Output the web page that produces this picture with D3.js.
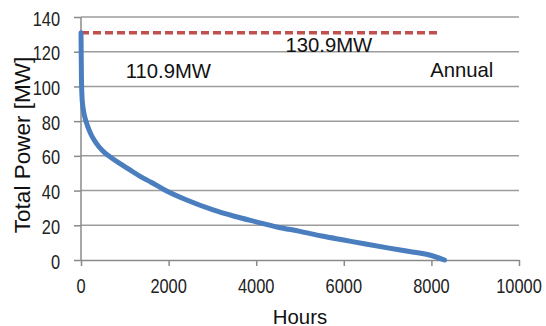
<!DOCTYPE html>
<html>
<head>
	<meta charset="utf-8">
	<script src="https://cdn.jsdelivr.net/npm/d3@7"></script>
	<style>
		body { margin: 0; background: #fff; }
		.grid line { stroke: #9c9c9c; stroke-width: 1.5px; }
		.axis path, .axis line { stroke: #8a8a8a; stroke-width: 1.5px; }
		.tick-label { font-family: "Liberation Sans", Arial, sans-serif; font-size: 20.5px; fill: #222; }
		.title { font-family: "Liberation Sans", Arial, sans-serif; fill: #111; }
		.note { font-family: "Liberation Sans", Arial, sans-serif; font-size: 20.3px; fill: #111; }
		.curve { fill: none; stroke: #4a7ebf; stroke-width: 5px; stroke-linejoin: round; stroke-linecap: round; }
		.peak { fill: none; stroke: #c0504d; stroke-width: 3.5px; stroke-dasharray: 8 4; }
	</style>
</head>
<body>
	<svg width="546" height="326"></svg>

	<script>
		// load duration curve
		var hours = [0, 10, 25, 40, 60, 90, 130, 170, 230, 300, 400, 550, 700, 900, 1100, 1350, 1600, 1900, 2400, 3000, 3500, 4000, 4500, 5000, 5500, 6000, 6500, 7000, 7500, 8000, 8300]
		var power = [130.9, 105, 93, 89, 85.5, 82, 78.6, 75.8, 72.3, 69.1, 65.5, 61.6, 58.8, 55.4, 52.2, 48.2, 44.8, 40.5, 34.7, 29, 25.2, 22, 18.9, 16.5, 13.8, 11.5, 9.2, 7, 4.9, 2.6, 0]

		// peak line
		var peakHours = [0, 8190]
		var peakValue = 130.9

		var xTicks = [0, 2000, 4000, 6000, 8000, 10000]
		var yTicks = [0, 20, 40, 60, 80, 100, 120, 140]

		var svg = d3.select('svg')
		var mLeft = 81, mRight = 519, mTop = 17, mBottom = 260
		var squeeze = 0.8 // tick labels are a narrow face in the original

		var x = d3.scaleLinear().domain([0, 10000]).range([mLeft, mRight])
		var y = d3.scaleLinear().domain([0, 140]).range([mBottom, mTop])

		// gridlines
		svg.append('g')
			.attr('class', 'grid')
			.selectAll('line')
			.data(yTicks.filter(d => d > 0))
			.enter()
			.append('line')
			.attr('x1', mLeft)
			.attr('x2', mRight)
			.attr('y1', d => y(d))
			.attr('y2', d => y(d))

		// y axis
		var yAxis = svg.append('g')
			.attr('class', 'axis')
			.attr('transform', 'translate(' + mLeft + ',0)')
			.call(d3.axisLeft(y).tickValues(yTicks).tickSize(7).tickSizeOuter(0).tickFormat(''))
		yAxis.select('.domain').attr('d', 'M0,' + mTop + 'V' + mBottom)

		// x axis
		svg.append('g')
			.attr('class', 'axis')
			.attr('transform', 'translate(0,' + mBottom + ')')
			.call(d3.axisBottom(x).tickValues(xTicks).tickSize(6).tickSizeOuter(0).tickFormat(''))

		svg.append('g')
			.selectAll('text')
			.data(yTicks)
			.enter()
			.append('text')
			.attr('class', 'tick-label')
			.attr('transform', d => 'translate(' + (mLeft - 21) + ',' + (y(d) + 8.5) + ') scale(' + squeeze + ',1)')
			.attr('text-anchor', 'end')
			.text(d => d)

		svg.append('g')
			.selectAll('text')
			.data(xTicks)
			.enter()
			.append('text')
			.attr('class', 'tick-label')
			.attr('transform', d => 'translate(' + x(d) + ',' + (mBottom + 33) + ') scale(' + squeeze + ',1)')
			.attr('text-anchor', 'middle')
			.text(d => d)

		// titles
		svg.append('text')
			.attr('class', 'title')
			.attr('transform', 'translate(30,145) rotate(-90)')
			.attr('text-anchor', 'middle')
			.style('font-size', '22.5px')
			.text('Total Power [MW]')

		svg.append('text')
			.attr('class', 'title')
			.attr('x', (mLeft + mRight) / 2)
			.attr('y', 324)
			.attr('text-anchor', 'middle')
			.style('font-size', '20.4px')
			.text('Hours')

		// series
		var line = d3.line()
			.x((d, i) => x(hours[i]))
			.y(d => y(d))
			.curve(d3.curveMonotoneX)

		svg.append('path')
			.attr('class', 'peak')
			.attr('d', d3.line()(peakHours.map(h => [x(h), y(peakValue)])))

		svg.append('path')
			.attr('class', 'curve')
			.attr('d', line(power))

		// annotations
		svg.append('text').attr('class', 'note')
			.attr('x', x(1020)).attr('y', y(104.6))
			.text('110.9MW')
		svg.append('text').attr('class', 'note')
			.attr('x', x(4668)).attr('y', y(119.7))
			.text('130.9MW')
		svg.append('text').attr('class', 'note')
			.attr('x', x(7973)).attr('y', y(105.4))
			.text('Annual')
	</script>
</body>
</html>
